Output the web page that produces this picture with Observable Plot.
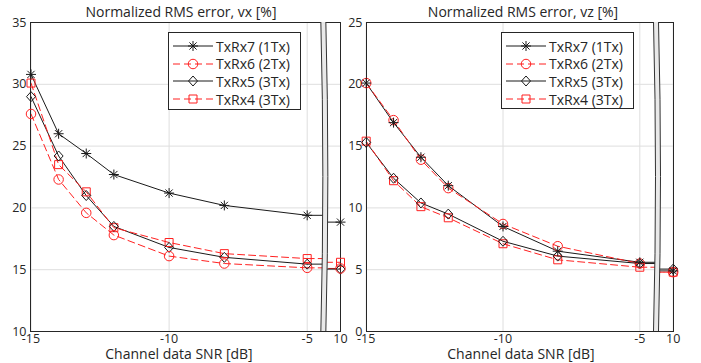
<!DOCTYPE html>
<html>
<head>
<meta charset="utf-8">
<script src="https://cdn.jsdelivr.net/npm/d3@7"></script>
<script src="https://cdn.jsdelivr.net/npm/@observablehq/plot@0.6"></script>
<style>
  html, body { margin: 0; padding: 0; background: #fff; }
  #root { position: relative; width: 701px; height: 363px; overflow: hidden; font-family: "Open Sans", sans-serif; color: #262626; }
  .panel { position: absolute; top: 0; }
  .title, .xlabel { position: absolute; white-space: nowrap; transform: translateX(-50%); font-size: 14px; line-height: 1; }
  .legend { position: absolute; background: #fff; border: 1px solid #262626; box-sizing: border-box; }
  .lrow { position: absolute; left: 0; height: 18px; display: flex; align-items: center; font-size: 14px; white-space: nowrap; }
  .lrow svg { display: block; margin-right: 3px; }
</style>
</head>
<body>
<div id="root"></div>
<script>
// ---------- data ----------
const snr = [-15, -14, -13, -12, -10, -8, -5, 10];
const xTicks = [-15, -10, -5, 10];
const vxTicks = [10, 15, 20, 25, 30, 35];
const vzTicks = [0, 5, 10, 15, 20, 25];
const seriesNames = ["TxRx7 (1Tx)", "TxRx6 (2Tx)", "TxRx5 (3Tx)", "TxRx4 (3Tx)"];

const vxTxRx7 = [30.8, 26.0, 24.4, 22.7, 21.2, 20.2, 19.4, 18.85];
const vxTxRx6 = [27.6, 22.3, 19.6, 17.8, 16.1, 15.5, 15.15, 15.1];
const vxTxRx5 = [29.0, 24.2, 21.0, 18.5, 16.8, 16.0, 15.45, 15.05];
const vxTxRx4 = [30.1, 23.5, 21.3, 18.4, 17.2, 16.3, 15.9, 15.6];

const vzTxRx7 = [20.1, 16.9, 14.1, 11.8, 8.5, 6.5, 5.6, 4.9];
const vzTxRx6 = [20.1, 17.1, 13.9, 11.6, 8.7, 6.9, 5.5, 4.8];
const vzTxRx5 = [15.3, 12.4, 10.4, 9.5, 7.3, 6.1, 5.5, 5.05];
const vzTxRx4 = [15.4, 12.2, 10.1, 9.2, 7.1, 5.8, 5.2, 4.8];

// ---------- styles ----------
const RED = "#ff2020", BLACK = "#1a1a1a";
function star(ctx, r) { const d = r * 0.72; ctx.moveTo(-r, 0); ctx.lineTo(r, 0); ctx.moveTo(0, -r); ctx.lineTo(0, r); ctx.moveTo(-d, -d); ctx.lineTo(d, d); ctx.moveTo(-d, d); ctx.lineTo(d, -d); }
function circ(ctx, r) { const c = r * 0.95; ctx.moveTo(c, 0); ctx.arc(0, 0, c, 0, 2 * Math.PI); }
function diam(ctx, r) { const h = r * 1.0, w = r * 0.9; ctx.moveTo(0, -h); ctx.lineTo(w, 0); ctx.lineTo(0, h); ctx.lineTo(-w, 0); ctx.closePath(); }
function sq(ctx, r) { const s = r * 0.8; ctx.moveTo(-s, -s); ctx.lineTo(s, -s); ctx.lineTo(s, s); ctx.lineTo(-s, s); ctx.closePath(); }
const mk = f => ({ draw(ctx, size) { f(ctx, Math.sqrt(size / Math.PI)); } });
const styles = [
  { stroke: BLACK, dash: null, shape: star },
  { stroke: RED, dash: "7,4", shape: circ },
  { stroke: BLACK, dash: null, shape: diam },
  { stroke: RED, dash: "7,4", shape: sq }
];

function panel(seriesValues, yDomain, yTicks, opt) {
  const marks = [
    Plot.ruleX(xTicks, { stroke: "#dedede", strokeWidth: 1 }),
    Plot.ruleY(yTicks, { stroke: "#dedede", strokeWidth: 1 })
  ];
  seriesValues.forEach((vals, i) => {
    const st = styles[i];
    const pts = snr.map((x, j) => ({ x, y: vals[j] }));
    marks.push(Plot.line(pts.slice(0, 7), { x: "x", y: "y", stroke: st.stroke, strokeWidth: 1, strokeDasharray: st.dash }));
    marks.push(Plot.line(pts.slice(6), { x: "x", y: "y", stroke: st.stroke, strokeWidth: 1, strokeDasharray: st.dash, curve: "step" }));
  });
  marks.push(Plot.frame({ stroke: "#262626", strokeWidth: 1 }));
  seriesValues.slice().reverse().forEach((vals, k) => {
    const i = seriesValues.length - 1 - k;
    const st = styles[i];
    const pts = snr.map((x, j) => ({ x, y: vals[j] }));
    marks.push(Plot.dot(pts, { x: "x", y: "y", r: 5, symbol: mk(st.shape), stroke: st.stroke, strokeWidth: 1, fill: "none" }));
  });
  const svg = Plot.plot({
    width: opt.width, height: 363,
    marginLeft: opt.ml, marginRight: opt.mr, marginTop: 22, marginBottom: 32,
    style: { background: "transparent", overflow: "visible", fontFamily: "Open Sans, sans-serif", fontSize: "12.5px", color: "#262626" },
    x: { type: "linear", domain: [-15, -5, 10], range: opt.xRange, ticks: xTicks, tickSize: 0, tickPadding: 3, label: null, tickFormat: d => String(d) },
    y: { domain: yDomain, ticks: yTicks, tickSize: 0, tickPadding: 4, label: null, tickFormat: d => String(d) },
    marks
  });
  // axis break band
  const xs = svg.scale("x");
  const bx = (xs.apply(-5) + xs.apply(10)) / 2;
  const top = 22, bot = 363 - 32, mid = (top + bot) / 2, hw = 2.5, bow = 4;
  const ns = "http://www.w3.org/2000/svg";
  const g = document.createElementNS(ns, "g");
  const band = document.createElementNS(ns, "path");
  band.setAttribute("d", `M${bx - hw},${top} Q${bx - hw + bow},${mid} ${bx - hw},${bot} L${bx + hw},${bot} Q${bx + hw + bow},${mid} ${bx + hw},${top} Z`);
  band.setAttribute("fill", "#e9e9e9");
  g.appendChild(band);
  for (const s of [-hw, hw]) {
    const p = document.createElementNS(ns, "path");
    p.setAttribute("d", `M${bx + s},${top} Q${bx + s + bow},${mid} ${bx + s},${bot}`);
    p.setAttribute("fill", "none"); p.setAttribute("stroke", "#333"); p.setAttribute("stroke-width", "1");
    g.appendChild(p);
  }
  const firstDot = svg.querySelector('g[aria-label="dot"]');
  if (firstDot) svg.insertBefore(g, firstDot); else svg.appendChild(g);
  return svg;
}

function legend(left, top, w, h) {
  const div = document.createElement("div");
  div.className = "legend";
  Object.assign(div.style, { left: left + "px", top: top + "px", width: w + "px", height: h + "px" });
  seriesNames.forEach((name, i) => {
    const st = styles[i];
    const row = document.createElement("div");
    row.className = "lrow";
    row.style.top = (4 + i * 17.7) + "px";
    row.style.left = "4px";
    const s = d3.create("svg").attr("width", 40).attr("height", 18);
    s.append("line").attr("x1", 0).attr("x2", 40).attr("y1", 9).attr("y2", 9)
      .attr("stroke", st.stroke).attr("stroke-width", 1).attr("stroke-dasharray", st.dash || null);
    const p = d3.path(); st.shape(p, 5);
    s.append("path").attr("transform", "translate(20,9)").attr("d", p.toString())
      .attr("fill", "none").attr("stroke", st.stroke).attr("stroke-width", 1);
    row.appendChild(s.node());
    const t = document.createElement("span"); t.textContent = name;
    row.appendChild(t);
    div.appendChild(row);
  });
  return div;
}

const root = document.getElementById("root");
const left = panel([vxTxRx7, vxTxRx6, vxTxRx5, vxTxRx4], [10, 35], vxTicks, { width: 350, ml: 30, mr: 10, xRange: [30.5, 306.7, 340] });
left.classList.add("panel"); left.style.left = "0px";
root.appendChild(left);
const right = panel([vzTxRx7, vzTxRx6, vzTxRx5, vzTxRx4], [0, 25], vzTicks, { width: 361, ml: 26, mr: 28, xRange: [25.7, 299.3, 332.7] });
right.classList.add("panel"); right.style.left = "340px";
root.appendChild(right);

function label(cls, text, cx, top) {
  const d = document.createElement("div"); d.className = cls; d.textContent = text;
  d.style.left = cx + "px"; d.style.top = top + "px"; root.appendChild(d);
}
label("title", "Normalized RMS error, vx [%]", 181, 5);
label("title", "Normalized RMS error, vz [%]", 523, 5);
label("xlabel", "Channel data SNR [dB]", 179, 347);
label("xlabel", "Channel data SNR [dB]", 521, 347);
root.appendChild(legend(168, 32, 133, 78));
root.appendChild(legend(501, 32, 133, 77));
</script>
</body>
</html>
